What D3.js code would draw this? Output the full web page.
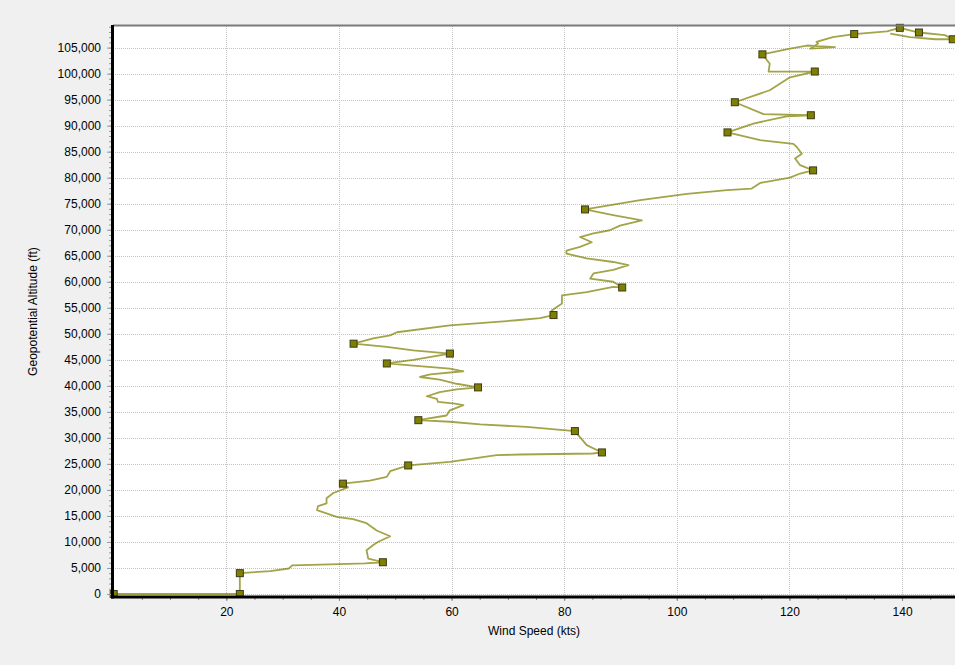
<!DOCTYPE html>
<html>
<head>
<meta charset="utf-8">
<script src="https://cdn.jsdelivr.net/npm/d3@7"></script>
<style>
  html, body { margin: 0; padding: 0; background: #f0f0f0; }
  svg { display: block; }
  text { font-family: "Liberation Sans", Arial, sans-serif; }
</style>
</head>
<body>
<script>
// ---- data (wind speed in kts, geopotential altitude in ft) ----
const lineSpeed = [0, 22.4, 22.4, 27.8, 31.1, 31.7, 38.4, 44.6, 47.8, 45.2, 44.9, 46.1, 46.9, 49.1, 46.7, 44.9, 42.5, 39.6, 36.1, 36.3, 37.8, 37.8, 39.0, 41.6, 40.7, 45.5, 48.5, 49.1, 52.3, 59.7, 68.0, 72.2, 85.1, 86.7, 84.0, 81.9, 73.3, 65.1, 59.7, 54.1, 59.1, 59.7, 62.1, 60.6, 57.6, 57.4, 55.6, 57.9, 60.9, 64.7, 60.9, 57.9, 54.4, 56.2, 62.1, 59.7, 53.2, 48.5, 53.2, 59.7, 53.2, 48.5, 42.6, 46.1, 49.1, 50.3, 59.7, 71.6, 75.7, 78.1, 77.8, 79.6, 79.6, 84.0, 88.7, 90.3, 88.7, 84.6, 85.2, 88.7, 91.4, 88.7, 84.0, 80.4, 80.4, 82.8, 84.9, 82.8, 85.2, 88.1, 89.9, 93.8, 88.7, 83.7, 93.5, 101.8, 108.9, 113.3, 114.8, 120.1, 121.9, 124.2, 121.9, 121.0, 122.2, 121.3, 120.7, 114.8, 109.0, 113.6, 119.5, 123.8, 115.4, 110.3, 116.5, 120.1, 124.5, 116.3, 116.5, 115.2, 120.1, 123.1, 128.1, 123.7, 125.1, 124.8, 127.7, 131.5, 137.3, 139.6, 143.0, 147.6, 149.0, 145.9, 141.4, 137.9];
const lineAlt = [0, 0, 4000, 4400, 4900, 5500, 5700, 5900, 6100, 6800, 8400, 9400, 10000, 11100, 12200, 13600, 14400, 14800, 16100, 16900, 17400, 18400, 19400, 20500, 21200, 21800, 22500, 23600, 24700, 25400, 26700, 26800, 27000, 27200, 28600, 31300, 32100, 32600, 33100, 33400, 34300, 35300, 36300, 36600, 36900, 37500, 38000, 38800, 39300, 39700, 40400, 41200, 41700, 42200, 42800, 43300, 43900, 44300, 45000, 46200, 46800, 47500, 48100, 49100, 49700, 50300, 51600, 52600, 53000, 53600, 54500, 55800, 57400, 58000, 59000, 58900, 60000, 60600, 61600, 62300, 63200, 63800, 64500, 65400, 66000, 66700, 67600, 68600, 69300, 69900, 70800, 71800, 72800, 73900, 75700, 76900, 77600, 77900, 79000, 80000, 80800, 81400, 82400, 83700, 84600, 85900, 86500, 87200, 88700, 90400, 91800, 92000, 92200, 94500, 96800, 99300, 100400, 100400, 101900, 103700, 104800, 105400, 105100, 104800, 105800, 106100, 107000, 107600, 108100, 108800, 107900, 107400, 106600, 106600, 107000, 107700];
const markerSpeed = [0, 22.4, 22.4, 47.8, 40.7, 52.3, 86.7, 81.9, 54.1, 64.7, 48.5, 59.7, 42.6, 78.1, 90.3, 83.7, 124.2, 109.0, 123.8, 110.3, 124.5, 115.2, 131.5, 139.6, 143.0, 149.0];
const markerAlt = [0, 0, 4000, 6100, 21200, 24700, 27200, 31300, 33400, 39700, 44300, 46200, 48100, 53600, 58900, 73900, 81400, 88700, 92000, 94500, 100400, 103700, 107600, 108800, 107900, 106600];
const xTicks = [20, 40, 60, 80, 100, 120, 140];
const yTicks = [0, 5000, 10000, 15000, 20000, 25000, 30000, 35000, 40000, 45000, 50000, 55000, 60000, 65000, 70000, 75000, 80000, 85000, 90000, 95000, 100000, 105000];
const xTitle = "Wind Speed (kts)";
const yTitle = "Geopotential Altitude (ft)";

// ---- layout ----
const W = 955, H = 665;
const L = 113, T = 26, R = 955, B = 597;

const svg = d3.select("body").append("svg").attr("width", W).attr("height", H);
svg.append("rect").attr("width", W).attr("height", H).attr("fill", "#f0f0f0");
svg.append("rect").attr("x", L).attr("y", T).attr("width", R - L).attr("height", B - T).attr("fill", "#ffffff");

const x = d3.scaleLinear().domain([0, 149.4]).range([113.7, 955]);
const y = d3.scaleLinear().domain([-580, 109150]).range([597, 26]);

// gridlines
const grid = svg.append("g");
grid.selectAll("line.h").data(yTicks).join("line")
  .attr("x1", L).attr("x2", R)
  .attr("y1", d => Math.round(y(d)) + 0.5).attr("y2", d => Math.round(y(d)) + 0.5)
  .attr("stroke", "#c4c4c4").attr("stroke-width", 1).attr("stroke-dasharray", "1,1");
grid.selectAll("line.v").data(xTicks).join("line")
  .attr("y1", T).attr("y2", B)
  .attr("x1", d => Math.round(x(d)) + 0.5).attr("x2", d => Math.round(x(d)) + 0.5)
  .attr("stroke", "#c4c4c4").attr("stroke-width", 1).attr("stroke-dasharray", "1,1");

// line
const pts = lineSpeed.map((s, i) => [s, lineAlt[i]]);
const line = d3.line().x(d => x(d[0])).y(d => y(d[1]));
svg.append("path").datum(pts).attr("d", line)
  .attr("fill", "none").attr("stroke", "#808000").attr("stroke-opacity", 0.72)
  .attr("stroke-width", 1.8).attr("stroke-linejoin", "round");

// markers
const mpts = markerSpeed.map((s, i) => [s, markerAlt[i]]);
svg.append("g").selectAll("rect").data(mpts).join("rect")
  .attr("x", d => x(d[0]) - 3.5).attr("y", d => y(d[1]) - 3.5)
  .attr("width", 7).attr("height", 7)
  .attr("fill", "#808000").attr("stroke", "#3a3a1a").attr("stroke-width", 1);

// y axis
const yMinor = d3.range(0, 109001, 1000);
const yAx = d3.axisLeft(y).tickValues(yMinor).tickSize(3).tickFormat("");
const gyMinor = svg.append("g").attr("transform", `translate(${L - 1},0)`).call(yAx);
gyMinor.select(".domain").remove();
gyMinor.selectAll("line").attr("stroke", "#9a9a9a");
const gy = svg.append("g").attr("transform", `translate(${L - 1},0)`)
  .call(d3.axisLeft(y).tickValues(yTicks).tickSize(5).tickPadding(6).tickFormat(d3.format(",")));
gy.select(".domain").remove();
gy.selectAll("line").attr("stroke", "#9a9a9a");
gy.selectAll("text").attr("font-size", 12).attr("fill", "#000").attr("font-family", "Liberation Sans, Arial, sans-serif");

// x axis
const xMinor = d3.range(5, 149.1, 5);
const gxMinor = svg.append("g").attr("transform", `translate(0,${B})`)
  .call(d3.axisBottom(x).tickValues(xMinor).tickSize(3).tickFormat(""));
gxMinor.select(".domain").remove();
gxMinor.selectAll("line").attr("stroke", "#8a8a8a");
const gx = svg.append("g").attr("transform", `translate(0,${B})`)
  .call(d3.axisBottom(x).tickValues(xTicks).tickSize(4).tickPadding(6));
gx.select(".domain").remove();
gx.selectAll("line").attr("stroke", "#8a8a8a");
gx.selectAll("text").attr("font-size", 12).attr("fill", "#000").attr("font-family", "Liberation Sans, Arial, sans-serif");

// frame
svg.append("line").attr("x1", L).attr("x2", R).attr("y1", T - 0.5).attr("y2", T - 0.5)
  .attr("stroke", "#7a7a7a").attr("stroke-width", 2);
svg.append("line").attr("x1", L - 0.5).attr("x2", L - 0.5).attr("y1", T - 1).attr("y2", B + 1.5)
  .attr("stroke", "#000").attr("stroke-width", 3);
svg.append("line").attr("x1", L - 2).attr("x2", R).attr("y1", B).attr("y2", B)
  .attr("stroke", "#000").attr("stroke-width", 3);

// titles
svg.append("text").attr("x", (L + R) / 2).attr("y", 635).attr("text-anchor", "middle")
  .attr("font-size", 12).attr("fill", "#000").text(xTitle);
svg.append("text").attr("transform", `translate(37,${(T + B) / 2}) rotate(-90)`)
  .attr("text-anchor", "middle").attr("font-size", 12).attr("fill", "#000").text(yTitle);
</script>
</body>
</html>
